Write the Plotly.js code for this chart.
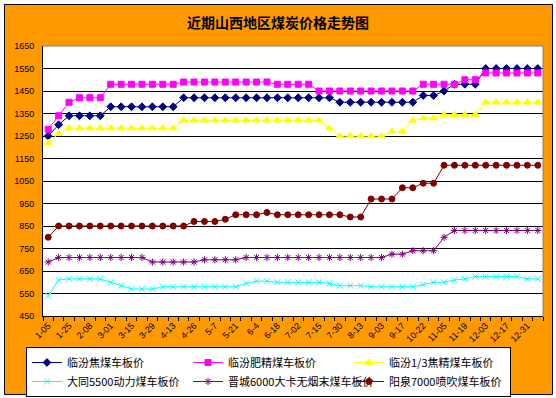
<!DOCTYPE html>
<html><head><meta charset="utf-8">
<script src="https://cdn.plot.ly/plotly-3.0.1.min.js"></script>
<style>html,body{margin:0;padding:0;background:#fff}#chart{width:556px;height:398px}</style>
</head><body><div id="chart"></div>
<script>
// x tick labels (every other weekly observation is labelled)
const tickLabels = ["1-05","1-25","2-08","3-01","3-15","3-29","4-13","4-26","5-7","5-21","6-4","6-18",
  "7-02","7-15","7-30","8-13","9-03","9-17","10-22","11-05","11-19","12-03","12-17","12-31"];

const seriesNames = ["临汾焦煤车板价","临汾肥精煤车板价","临汾1/3焦精煤车板价",
  "大同5500动力煤车板价","晋城6000大卡无烟末煤车板价","阳泉7000喷吹煤车板价"];

const linfenCoking = [1250,1300,1340,1340,1340,1340,1380,1380,1380,1380,1380,1380,1380,
  1420,1420,1420,1420,1420,1420,1420,1420,1420,1420,1420,1420,1420,1420,1420,
  1400,1400,1400,1400,1400,1400,1400,1400,1430,1430,1450,1480,1480,1480,
  1550,1550,1550,1550,1550,1550];
const linfenFat = [1280,1340,1400,1420,1420,1420,1480,1480,1480,1480,1480,1480,1480,
  1490,1490,1490,1490,1490,1490,1490,1490,1490,1480,1480,1480,1480,
  1450,1450,1450,1450,1450,1450,1450,1450,1450,1450,1480,1480,1480,1480,1500,1500,
  1530,1530,1530,1530,1530,1530];
const linfenThird = [1220,1260,1285,1285,1285,1285,1285,1285,1285,1285,1285,1285,1285,
  1320,1320,1320,1320,1320,1320,1320,1320,1320,1320,1320,1320,1320,1320,1285,
  1250,1250,1250,1250,1250,1270,1270,1320,1330,1330,1345,1345,1345,1345,
  1400,1400,1400,1400,1400,1400];
const datong5500 = [540,610,615,615,615,615,600,585,570,570,570,580,580,580,580,580,580,580,580,595,
  605,605,600,600,600,600,600,595,585,585,585,580,580,580,580,580,590,600,600,610,
  615,625,625,625,625,625,615,615];
const jincheng6000 = [690,710,710,710,710,710,710,710,710,710,690,690,690,690,690,700,700,700,700,
  710,710,710,710,710,710,710,710,710,710,710,710,710,710,725,725,740,740,740,800,
  830,830,830,830,830,830,830,830,830];
const yangquan7000 = [800,850,850,850,850,850,850,850,850,850,850,850,850,850,870,870,870,880,
  900,900,900,910,900,900,900,900,900,900,900,890,890,970,970,970,1020,1020,1040,1040,
  1120,1120,1120,1120,1120,1120,1120,1120,1120,1120];

const allSeries = [linfenCoking, linfenFat, linfenThird, datong5500, jincheng6000, yangquan7000];
const colors = ["#000080","#FF00FF","#FFFF00","#00FFFF","#800080","#800000"];
const symbols = ["diamond","square","triangle-up","x-thin-open","asterisk-open","circle"];
const sizes = [6,6,7,6,6,6];

const xIdx = linfenCoking.map((_, i) => i);
const CJK = '"Noto Sans CJK SC", "Liberation Sans", sans-serif';
const NUM = '"Liberation Sans", Arial, sans-serif';

const traces = allSeries.map((ys, k) => ({
  type: 'scatter', mode: 'lines+markers', name: seriesNames[k],
  x: xIdx, y: ys,
  line: {color: colors[k], width: 1},
  marker: {color: colors[k], symbol: symbols[k], size: sizes[k], line: {color: colors[k], width: 1}}
}));

// plot-area pixel geometry (for paper-coordinate conversions)
const L = 43, R = 543, T = 46, B = 316, W = 556, H = 398;
const px = v => (v - L) / (R - L);
const py = v => (B - v) / (B - T);

const layout = {
  width: W, height: H,
  margin: {l: L, r: W - R, t: T, b: H - B, pad: 0},
  paper_bgcolor: '#FF9900', plot_bgcolor: '#FFFFFF',
  showlegend: true,
  title: {text: '近期山西地区煤炭价格走势图', font: {family: CJK, size: 14, color: '#000', weight: 'bold'},
    x: 0.5, xref: 'container', xanchor: 'center', y: 1 - 23 / H, yref: 'container', yanchor: 'middle'},
  xaxis: {
    range: [-0.5, 47.5], tickmode: 'array',
    tickvals: tickLabels.map((_, i) => 2 * i), ticktext: tickLabels,
    tickangle: -45, tickfont: {family: NUM, size: 9, color: '#000'},
    ticks: '', showgrid: false, zeroline: false, automargin: false,
    showline: true, linecolor: '#000', linewidth: 1,
    minor: {tickmode: 'linear', tick0: -0.5, dtick: 1, ticks: 'outside', ticklen: 4, tickcolor: '#000', tickwidth: 1, showgrid: false},
    fixedrange: true
  },
  yaxis: {
    range: [450, 1650], tickmode: 'linear', tick0: 450, dtick: 100,
    tickfont: {family: NUM, size: 9, color: '#000'},
    ticks: '', ticklabelstandoff: 6, automargin: false,
    showgrid: true, gridcolor: '#000', gridwidth: 1, zeroline: false,
    showline: true, linecolor: '#000', linewidth: 1, fixedrange: true
  },
  legend: {
    orientation: 'h', xref: 'container', yref: 'container',
    x: 26 / W, xanchor: 'left', y: 1 - 372 / H, yanchor: 'middle',
    bgcolor: '#FFFFFF', bordercolor: '#000', borderwidth: 1,
    font: {family: CJK, size: 11, color: '#000'},
    entrywidth: 116, entrywidthmode: 'pixels', tracegroupgap: 0, itemwidth: 30
  },
  shapes: [
    {type: 'rect', xref: 'paper', yref: 'paper', x0: px(0), x1: px(W), y0: py(H), y1: py(0),
      line: {color: '#FFFFFF', width: 8}, fillcolor: 'rgba(0,0,0,0)', layer: 'above'},
    {type: 'rect', xref: 'paper', yref: 'paper', x0: px(4.5), x1: px(552.5), y0: py(394.5), y1: py(4.5),
      line: {color: '#000', width: 1}, fillcolor: 'rgba(0,0,0,0)', layer: 'above'},
    {type: 'line', xref: 'paper', yref: 'paper', x0: 0, x1: 1, y0: 1, y1: 1, line: {color: '#808080', width: 1}, layer: 'above'},
    {type: 'line', xref: 'paper', yref: 'paper', x0: 1, x1: 1, y0: 0, y1: 1, line: {color: '#808080', width: 1}, layer: 'above'}
  ]
};

Plotly.newPlot('chart', traces, layout, {staticPlot: true, displayModeBar: false});
</script></body></html>
